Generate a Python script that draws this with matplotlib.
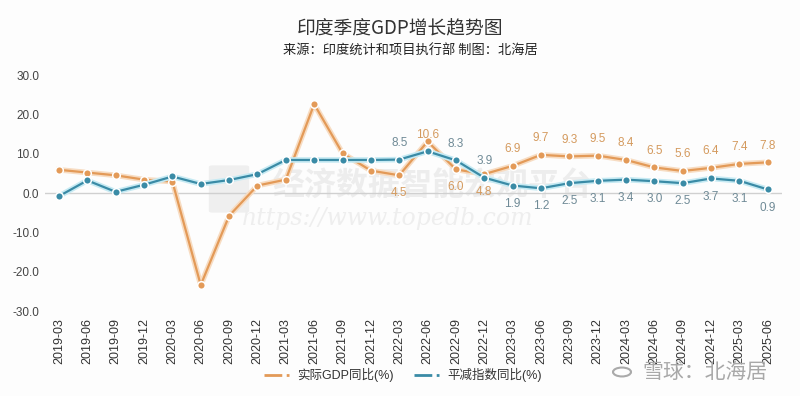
import matplotlib
matplotlib.use("Agg")
import matplotlib.pyplot as plt
import matplotlib.patheffects as pe
from matplotlib.lines import Line2D
from matplotlib.patches import FancyBboxPatch

plt.rcParams['font.family'] = ['Liberation Sans', 'Noto Sans CJK SC', 'DejaVu Sans']

quarters = ["2019-03", "2019-06", "2019-09", "2019-12", "2020-03", "2020-06", "2020-09",
            "2020-12", "2021-03", "2021-06", "2021-09", "2021-12", "2022-03", "2022-06",
            "2022-09", "2022-12", "2023-03", "2023-06", "2023-09", "2023-12", "2024-03",
            "2024-06", "2024-09", "2024-12", "2025-03", "2025-06"]
gdp_growth = [5.9, 5.2, 4.5, 3.4, 2.9, -23.4, -5.8, 1.9, 3.4, 22.6, 10.1, 5.7, 4.5, 13.1,
              6.0, 4.8, 6.9, 9.7, 9.3, 9.5, 8.4, 6.5, 5.6, 6.4, 7.4, 7.8]
deflator = [-0.8, 3.2, 0.3, 2.1, 4.2, 2.3, 3.3, 4.8, 8.4, 8.4, 8.4, 8.4, 8.5, 10.6,
            8.3, 3.9, 1.9, 1.2, 2.5, 3.1, 3.4, 3.0, 2.5, 3.7, 3.1, 0.9]
series_names = ["实际GDP同比(%)", "平减指数同比(%)"]
yticks = [-30, -20, -10, 0, 10, 20, 30]

# label placement: 'a' above, 'b' below, '' none
gdp_lab = [''] * 12 + ['b', '', 'b', 'b'] + ['a'] * 10
def_lab = [''] * 12 + ['a', 'a', 'a', 'a'] + ['b'] * 10

ORANGE = '#E39A58'
ORANGE_HALO = '#F7DCC2'
TEAL = '#3A8BA6'
TEAL_HALO = '#C6EAF3'

W, H = 800, 396
fig = plt.figure(figsize=(8, 3.96), dpi=100)
fig.patch.set_facecolor('#fdfdfd')

def fx(px):
    return px / W
def fy(py):
    return 1 - py / H

ax = fig.add_axes([0.056, 0.2146, 0.9215, 0.596])
ax.set_facecolor('none')
x = list(range(len(quarters)))

# watermark (behind the data)
logo = FancyBboxPatch((fx(212), fy(211)), 34 / W, 44 / H, boxstyle="round,pad=0.004",
                      transform=fig.transFigure, facecolor='#efefef', edgecolor='none',
                      zorder=0.2, clip_on=False)
ax.add_artist(logo)
ax.text(fx(432), fy(186), "经济数据智能宏观平台", fontsize=23, fontweight='bold',
        family=['Noto Sans CJK SC'], color='#ededed', ha='center', va='center',
        zorder=0.2, transform=fig.transFigure)
ax.text(fx(388), fy(219), "https://www.topedb.com", fontsize=17, family=['DejaVu Serif'],
        style='italic', color='#eeeeee', ha='center', va='center', zorder=0.2,
        transform=fig.transFigure)

ax.axhline(0, color='#d0d0d0', lw=1, zorder=1)

for vals, col, halo, z in [(gdp_growth, ORANGE, ORANGE_HALO, 3), (deflator, TEAL, TEAL_HALO, 4)]:
    ax.plot(x, vals, color=col, lw=1.6,
            path_effects=[pe.Stroke(linewidth=4, foreground=halo), pe.Normal()], zorder=z)
    ax.plot(x, vals, linestyle='none', marker='o', markersize=5.5,
            markerfacecolor=col, markeredgecolor='white', markeredgewidth=1.1, zorder=z)

for i in x:
    if gdp_lab[i]:
        off = 12 if gdp_lab[i] == 'a' else -13
        ax.annotate(f"{gdp_growth[i]:.1f}", (i, gdp_growth[i]), xytext=(0, off),
                    textcoords='offset points', ha='center', va='center',
                    fontsize=8.5, color='#D49A5E', zorder=5)
    if def_lab[i]:
        off = 12 if def_lab[i] == 'a' else -13
        col = '#D49A5E' if i == 13 else '#6F8A96'
        ax.annotate(f"{deflator[i]:.1f}", (i, deflator[i]), xytext=(0, off),
                    textcoords='offset points', ha='center', va='center',
                    fontsize=8.5, color=col, zorder=5)

ax.set_xlim(-0.5, len(quarters) - 0.5)
ax.set_ylim(-30, 30)
ax.set_yticks(yticks)
ax.set_yticklabels([f"{v:.1f}" for v in yticks], fontsize=8.5, color='#444444')
ax.set_xticks(x)
ax.set_xticklabels(quarters, rotation=90, fontsize=9, color='#333333')
ax.tick_params(axis='both', length=0)
ax.tick_params(axis='x', pad=5)
ax.tick_params(axis='y', pad=4)
for s in ax.spines.values():
    s.set_visible(False)

# title and subtitle
fig.text(0.5, fy(29), "印度季度GDP增长趋势图", fontsize=13.5, color='#333333',
         ha='center', va='center', family=['Noto Sans CJK SC'])
fig.text(fx(410), fy(51), "来源：印度统计和项目执行部 制图：北海居", fontsize=9.5,
         color='#222222', ha='center', va='center', style='italic',
         family=['Noto Sans CJK SC'])

handles = [Line2D([0], [0], color=ORANGE, lw=2, linestyle='-.'),
           Line2D([0], [0], color=TEAL, lw=2, linestyle='-.')]
fig.legend(handles, series_names, loc='center', bbox_to_anchor=(fx(403), fy(375)),
           ncol=2, frameon=False, fontsize=9, handlelength=2.3, columnspacing=1.6,
           handletextpad=0.4, labelcolor='#333333')

# source watermark bottom right
circ = plt.Circle((fx(622), fy(372)), 9 / W, transform=fig.transFigure, fill=False,
                  edgecolor='#aaaaaa', lw=1.5)
fig.add_artist(circ)
fig.text(fx(705), fy(372), "雪球：北海居", fontsize=15, color='#a8a8a8',
         ha='center', va='center', family=['Noto Sans CJK SC'])

fig.savefig("out.png", dpi=100, facecolor=fig.get_facecolor())
